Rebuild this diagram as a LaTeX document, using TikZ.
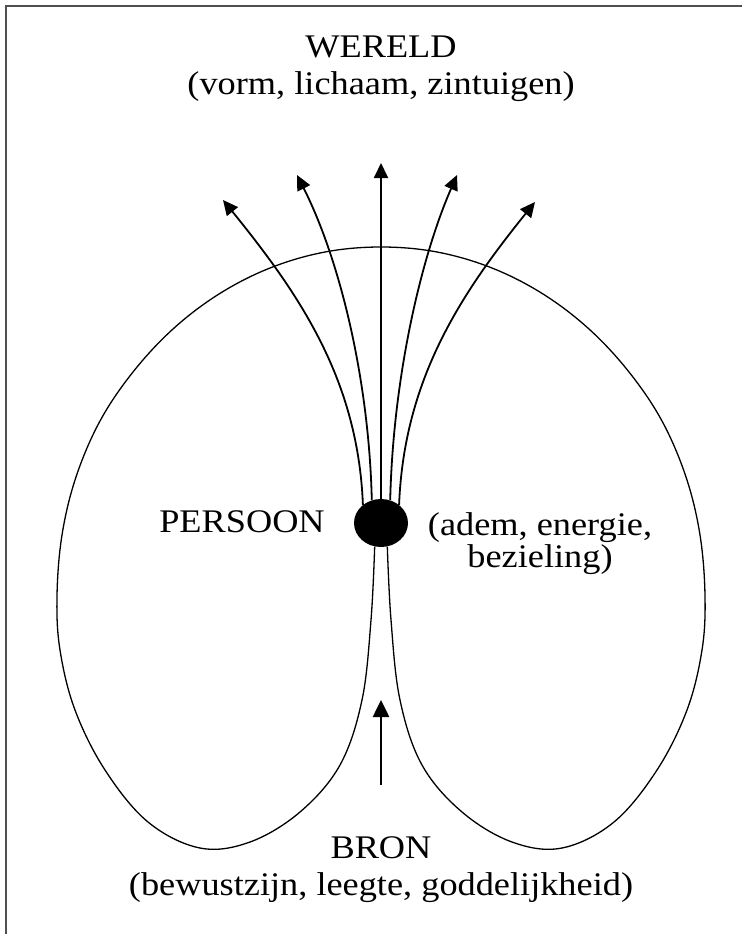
\documentclass[tikz,border=0pt]{standalone}
\usepackage{fontspec}
\setmainfont{Liberation Serif}
\usepackage{graphicx}
\usepackage{tikz}
\usetikzlibrary{shapes,arrows.meta,positioning,calc}
\definecolor{framegray}{RGB}{80,80,80}
\newcommand{\widetext}[1]{\scalebox{1.1}[1]{#1}}

\tikzset{
  label/.style={font=\fontsize{33}{37}\selectfont, inner sep=0pt, align=center},
  flow/.style={line width=1.8pt, -{Triangle[length=15pt,width=14pt]}},
  lobe/.style={line width=1.3pt}
}

\begin{document}
\begin{tikzpicture}[x=1pt,y=-1pt]
\useasboundingbox (0,0) rectangle (742,934);
% frame
\draw[framegray, line width=2pt] (6,934) -- (6,6) -- (742,6);
% the person in the middle
\node[ellipse, fill=black, minimum width=54pt, minimum height=48pt, inner sep=0pt] (dot) at (381,523) {};
% outline
\draw[lobe] plot[smooth, tension=0.6] coordinates {
  (dot.-105) (371,620) (362,700) (340,765) (300,812) (250,842) (200,848)
  (148,822) (105,770) (75,710) (60,650) (57,596) (62,535) (76,477)
  (100,421) (133,372) (173,329) (219,294) (270,268) (325,252) (381,247)
  (437,252) (492,268) (543,294) (589,329) (629,372) (662,421) (686,477)
  (700,535) (705,596) (702,650) (687,710) (657,770) (614,822) (562,848)
  (512,842) (462,812) (422,765) (400,700) (391,620) (dot.-75)};
% arrows to the world
\coordinate (tipA) at (223,200);
\coordinate (tipB) at (297,175);
\coordinate (tipC) at (381,163);
\coordinate (tipD) at (457,175);
\coordinate (tipE) at (535,202);
\draw[flow] (dot.135) .. controls (358,380) and (300,295) .. (tipA);
\draw[flow] (dot.112) .. controls (369,380) and (340,260) .. (tipB);
\draw[flow] (dot.north) -- (tipC);
\draw[flow] (dot.68) .. controls (393,380) and (420,260) .. (tipD);
\draw[flow] (dot.45) .. controls (404,380) and (460,295) .. (tipE);
% source arrow
\coordinate (src) at (381,785);
\coordinate (srctip) at (381,700);
\draw[line width=2.6pt, -{Triangle[length=17pt,width=16pt]}] (src) -- (srctip);
% labels
\node[label, anchor=base] (wereld) at (381,95) {\widetext{WERELD}\\\widetext{(vorm, lichaam, zintuigen)}};
\node[label, anchor=base] (persoon) at (242,532) {\widetext{PERSOON}};
\node[label, anchor=base] (adem) at (540,567) {\widetext{(adem, energie,}\\[-5pt]\widetext{bezieling)}};
\node[label, anchor=base] (bron) at (381,895) {\widetext{BRON}\\\widetext{(bewustzijn, leegte, goddelijkheid)}};
\end{tikzpicture}
\end{document}
